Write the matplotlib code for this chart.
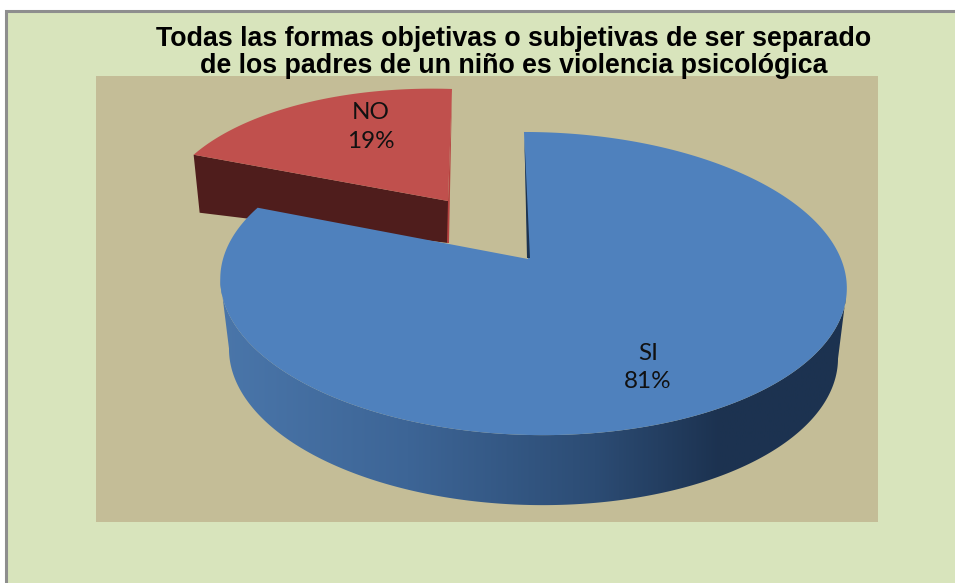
import numpy as np
import matplotlib
matplotlib.use('Agg')
import matplotlib.pyplot as plt
from matplotlib.colors import LinearSegmentedColormap
from matplotlib.patches import Polygon, Rectangle

categories = ['SI', 'NO']
values = [81, 19]
title_lines = ['Todas las formas objetivas o subjetivas de ser separado',
               'de los padres de un niño es violencia psicológica']

W, H = 955, 583
# fake 3d: circle -> screen through a perspective map
X0, Y0 = 532, 259
A, B, K, S = 309, 147.6, 0.162, -9.3
DEPTH = 70
SHRINK = 0.972


def rim(t_deg):
    t = np.radians(t_deg)
    x, y = np.sin(t), np.cos(t)
    d = 1 + K * y
    return X0 + (A * x + S * y) / d, Y0 - B * y / d


fig = plt.figure(figsize=(W / 100, H / 100), dpi=100, facecolor='white')
ax = fig.add_axes([0, 0, 1, 1])
ax.set_xlim(0, W)
ax.set_ylim(H, 0)
ax.axis('off')

# chart area and plot area
ax.add_patch(Rectangle((6, 11), W, H, fc='#d8e4bc', ec='#8e8e8e', lw=2.2, zorder=1))
ax.add_patch(Rectangle((96, 76), 782, 446, fc='#c4bd97', ec='none', zorder=2))

end = 360 * values[0] / sum(values)

# red slice, pulled out
t = np.linspace(end, 360, 60)
rx, ry = rim(t)
f = (t - end) / (360 - end)
rx = rx - 64 - 8 * f
ry = ry - 53 + 10 * f
ax.add_patch(Polygon([(rx[0], ry[0]), (rx[0] + 6, ry[0] + 58), (448, 243), (448, 201)],
                     fc='#4f1d1c', ec='none', zorder=3))
ax.add_patch(Polygon([(rx[-1], ry[-1]), (449, 243), (447, 243), (448, 201)],
                     fc='#b5423f', ec='none', zorder=3))
ax.add_patch(Polygon(list(zip(rx, ry)) + [(448, 201)], fc='#c0504d', ec='none', zorder=4))

# blue slice wall with gradient, from the right extreme to the left extreme
t = np.linspace(60, end, 400)
wx, wy = rim(t)
i0, i1 = np.argmax(wx), np.argmin(wx)
wx, wy = wx[i0:i1 + 1], wy[i0:i1 + 1]
bx = X0 + SHRINK * (wx - X0)
by = wy + DEPTH
wall = Polygon(list(zip(wx, wy)) + list(zip(bx[::-1], by[::-1])), fc='none', ec='none', zorder=5)
ax.add_patch(wall)
cmap = LinearSegmentedColormap.from_list('wall', [
    (0.0, '#4a76aa'), (0.3, '#3d6596'), (0.6, '#2c4c74'), (0.8, '#1c3250'), (1.0, '#1c3350')])
im = ax.imshow(np.linspace(0, 1, 256)[None, :], cmap=cmap, extent=(220, 845, 520, 130),
               aspect='auto', zorder=5)
im.set_clip_path(wall)
ax.set_xlim(0, W)
ax.set_ylim(H, 0)

# blue slice top
t = np.linspace(0, end, 300)
tx, ty = rim(t)
ax.add_patch(Polygon(list(zip(tx, ty)) + [(528, 259)], fc='#4f81bd', ec='none', zorder=6))
ax.add_patch(Polygon([(tx[0] + 0.5, ty[0] + 8), (530, 258), (527, 258)], fc='#1c3350', ec='none', zorder=7))

ax.text(371, 127, categories[1] + '\n' + str(values[1]) + '%', ha='center', va='center',
        family='Lato', fontsize=17.5, linespacing=1.45, color='#111111', zorder=8)
ax.text(648, 367.5, categories[0] + '\n' + str(values[0]) + '%', ha='center', va='center',
        family='Lato', fontsize=17.5, linespacing=1.45, color='#111111', zorder=8)

ax.text(514, 39, title_lines[0], ha='center', va='center', family='Liberation Sans',
        fontweight='bold', fontsize=19.3, color='black', zorder=9)
ax.text(514, 66, title_lines[1], ha='center', va='center', family='Liberation Sans',
        fontweight='bold', fontsize=19.3, color='black', zorder=9)

fig.savefig('out.png', dpi=100)
